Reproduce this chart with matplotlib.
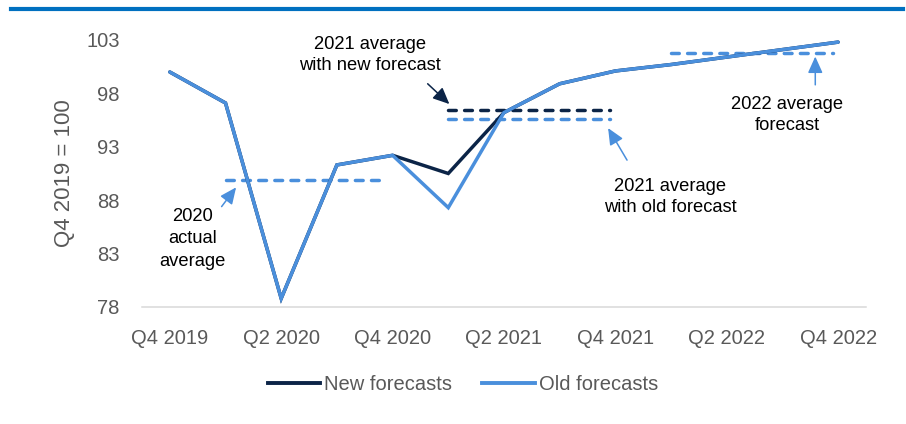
import matplotlib
matplotlib.use("Agg")
import matplotlib.pyplot as plt
from matplotlib.lines import Line2D
import numpy as np

plt.rcParams["font.family"] = ["Liberation Sans", "DejaVu Sans"]
plt.rcParams["lines.scale_dashes"] = False
TICK_FS, YLAB_FS, ANN_FS, LEG_FS = 14.5, 16, 13.2, 14.5

# Quarterly index, Q4 2019 = 100
quarters = ["Q4 2019", "Q1 2020", "Q2 2020", "Q3 2020", "Q4 2020",
            "Q1 2021", "Q2 2021", "Q3 2021", "Q4 2021",
            "Q1 2022", "Q2 2022", "Q3 2022", "Q4 2022"]
new_forecasts = [100.0, 97.1, 78.8, 91.3, 92.2, 90.5, 96.2, 98.9, 100.1,
                 100.7, 101.4, 102.1, 102.8]
old_forecasts = [100.0, 97.1, 78.8, 91.3, 92.2, 87.3, 96.2, 98.9, 100.1,
                 100.7, 101.4, 102.1, 102.8]
y_ticks = [78, 83, 88, 93, 98, 103]

# index ranges of each calendar year
year_2020 = slice(1, 5)
year_2021 = slice(5, 9)
year_2022 = slice(9, 13)

LIGHT = "#4A8FDC"
DARK = "#0B2447"
GREY = "#595959"

fig = plt.figure(figsize=(9.06, 4.24), dpi=100)
ax = fig.add_axes([0.1567, 0.276, 0.7991, 0.6297])

x = np.arange(len(quarters))
new_arr = np.array(new_forecasts)
old_arr = np.array(old_forecasts)

dash_kw = dict(linewidth=2.5, dashes=(5.6, 6.0), dash_capstyle="round",
               solid_capstyle="round", zorder=2)


def year_avg(series, sl, color):
    xs = x[sl]
    avg = series[sl].mean()
    ax.plot([xs[0], xs[-1] - 0.1], [avg, avg], color=color, **dash_kw)
    return avg


avg20 = year_avg(old_arr, year_2020, LIGHT)
avg21_new = year_avg(new_arr, year_2021, DARK)
avg21_old = year_avg(old_arr, year_2021, LIGHT)
avg22 = year_avg(old_arr, year_2022, LIGHT)

ax.plot(x, new_arr, color=DARK, linewidth=2.5, solid_joinstyle="miter",
        solid_capstyle="round", zorder=3, clip_on=False)
ax.plot(x, old_arr, color=LIGHT, linewidth=2.5, solid_joinstyle="miter",
        solid_capstyle="round", zorder=4, clip_on=False)

ax.set_xlim(-0.5, len(quarters) - 0.5)
ax.set_ylim(78, 103)
ax.set_yticks(y_ticks)
ax.set_xticks(x[::2])
ax.set_xticklabels(quarters[::2])
ax.tick_params(axis="both", length=0, labelsize=TICK_FS, labelcolor=GREY)
ax.tick_params(axis="x", pad=16)
ax.tick_params(axis="y", pad=16)
ax.set_ylabel("Q4 2019 = 100", fontsize=YLAB_FS, color=GREY, labelpad=8)

for side in ["left", "right", "top"]:
    ax.spines[side].set_visible(False)
ax.spines["bottom"].set_color("#D9D9D9")
ax.spines["bottom"].set_linewidth(1.1)

# annotations
arrow = dict(arrowstyle="-|>,head_length=1.0,head_width=0.45", lw=1.1,
             shrinkA=0, shrinkB=0)

ax.annotate("", xy=(1.19, 89.2), xytext=(0.93, 87.4),
            arrowprops=dict(arrow, color=LIGHT))
ax.text(0.415, 84.4, "2020\nactual\naverage", ha="center", va="center",
        fontsize=ANN_FS, linespacing=1.42)

ax.annotate("", xy=(5.02, 97.0), xytext=(4.63, 98.9),
            arrowprops=dict(arrow, color=DARK))
ax.text(3.59, 101.6, "2021 average\nwith new forecast", ha="center",
        va="center", fontsize=ANN_FS, linespacing=1.32)

ax.annotate("", xy=(7.87, 94.75), xytext=(8.21, 91.75),
            arrowprops=dict(arrow, color=LIGHT))
ax.text(8.99, 88.3, "2021 average\nwith old forecast", ha="center",
        va="center", fontsize=ANN_FS, linespacing=1.32)

ax.annotate("", xy=(11.59, 101.45), xytext=(11.59, 98.8),
            arrowprops=dict(arrow, color=LIGHT))
ax.text(11.08, 96.0, "2022 average\nforecast", ha="center", va="center",
        fontsize=ANN_FS, linespacing=1.32)

# legend
handles = [Line2D([], [], color=DARK, lw=2.8),
           Line2D([], [], color=LIGHT, lw=2.8)]
fig.legend(handles, ["New forecasts", "Old forecasts"], loc="center",
           bbox_to_anchor=(0.511, 0.092), ncol=2, frameon=False,
           fontsize=LEG_FS, handlelength=2.6, handletextpad=0.2,
           columnspacing=1.5, labelcolor=GREY)

# header rule
fig.add_artist(Line2D([11 / 906, 903 / 906], [0.979, 0.979],
                      color="#0070C0", lw=3.0,
                      transform=fig.transFigure))

fig.savefig("out.png", dpi=100)
